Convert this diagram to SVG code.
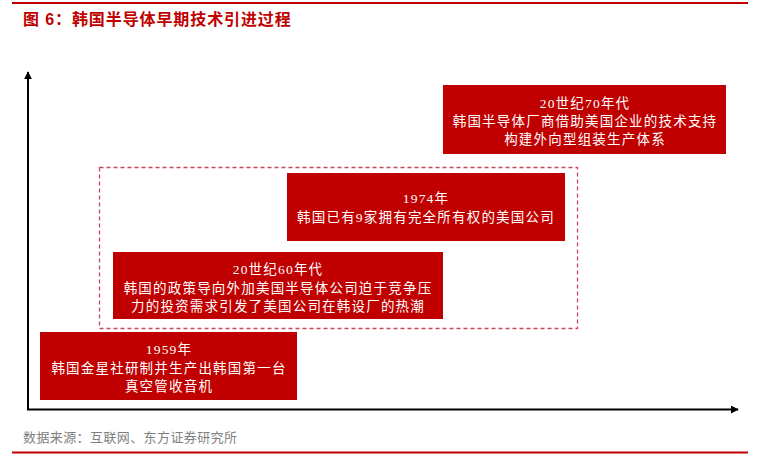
<svg xmlns="http://www.w3.org/2000/svg" width="758" height="454" viewBox="0 0 758 454">
<style>
.box{fill:#C00000;}
.t{font-family:"Liberation Serif","Noto Sans CJK SC",serif;font-size:13.5px;fill:#ffffff;text-anchor:middle;letter-spacing:1.2px;}
.title{font-family:"Liberation Sans","Noto Sans CJK SC",sans-serif;font-size:16px;font-weight:bold;fill:#C00000;letter-spacing:0.9px;}
.src{font-family:"Liberation Sans","Noto Sans CJK SC",sans-serif;font-size:13px;fill:#7f7f7f;letter-spacing:0.4px;}
.axis{stroke:#000;stroke-width:2;fill:none;}
</style>
<defs>
<marker id="arr" viewBox="0 0 10 10" refX="9" refY="5" markerWidth="4" markerHeight="4" orient="auto" markerUnits="strokeWidth">
<path d="M0,0 L10,5 L0,10 z" fill="#000"/>
</marker>
</defs>
<rect width="758" height="454" fill="#ffffff"/>
<line x1="12" y1="3" x2="748" y2="3" stroke="#C00000" stroke-width="2"/>
<text class="title" x="23" y="24.5">图 6：韩国半导体早期技术引进过程</text>
<g id="connectors">
<line class="axis" x1="28" y1="409.5" x2="28" y2="72" marker-end="url(#arr)"/>
<line class="axis" x1="27" y1="409.5" x2="738" y2="409.5" marker-end="url(#arr)"/>
</g>
<g id="group-dashed">
<rect x="99.5" y="167.5" width="478" height="161" fill="none" stroke="#C8485E" stroke-width="1.3" stroke-dasharray="4,3"/>
</g>
<g id="node-1970s">
<rect class="box" x="443" y="85" width="283" height="69"/>
<text class="t" x="585" y="108">20世纪70年代</text>
<text class="t" x="585" y="126">韩国半导体厂商借助美国企业的技术支持</text>
<text class="t" x="585" y="144">构建外向型组装生产体系</text>
</g>
<g id="node-1974">
<rect class="box" x="287" y="173" width="278" height="68"/>
<text class="t" x="426" y="203">1974年</text>
<text class="t" x="426" y="222">韩国已有9家拥有完全所有权的美国公司</text>
</g>
<g id="node-1960s">
<rect class="box" x="113" y="252" width="330" height="67"/>
<text class="t" x="278" y="274">20世纪60年代</text>
<text class="t" x="278" y="293">韩国的政策导向外加美国半导体公司迫于竞争压</text>
<text class="t" x="278" y="311">力的投资需求引发了美国公司在韩设厂的热潮</text>
</g>
<g id="node-1959">
<rect class="box" x="40" y="332" width="257" height="68"/>
<text class="t" x="169" y="354">1959年</text>
<text class="t" x="169" y="373">韩国金星社研制并生产出韩国第一台</text>
<text class="t" x="169" y="391">真空管收音机</text>
</g>
<text class="src" x="23" y="442">数据来源：互联网、东方证券研究所</text>
<line x1="12" y1="452.5" x2="748" y2="452.5" stroke="#C00000" stroke-width="2"/>
</svg>
